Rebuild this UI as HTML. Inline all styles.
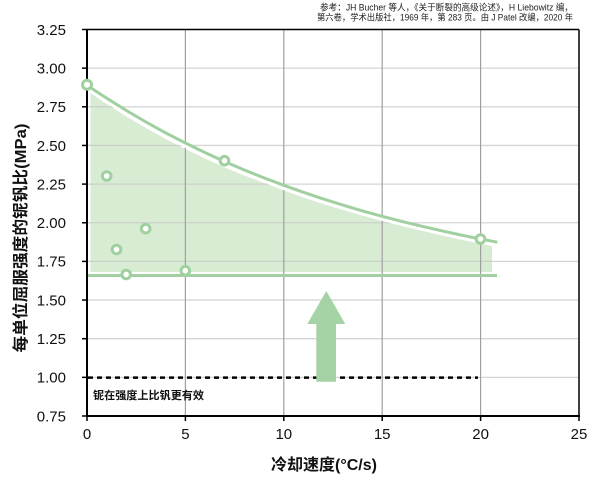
<!DOCTYPE html>
<html><head><meta charset="utf-8"><style>
html,body{margin:0;padding:0;background:#fff;}
svg{display:block;}
text{font-family:"Liberation Sans","Noto Sans CJK SC",sans-serif;}
</style></head><body>
<svg width="600" height="480" viewBox="0 0 600 480" xmlns="http://www.w3.org/2000/svg">
<rect width="600" height="480" fill="#fff"/>
<!-- citation -->
<text x="573" y="10.5" font-size="9" text-anchor="end" fill="#222" textLength="253" lengthAdjust="spacingAndGlyphs">参考：JH Bucher 等人，《关于断裂的高级论述》，H Liebowitz 编，</text>
<text x="573" y="20.5" font-size="9" text-anchor="end" fill="#222" textLength="256" lengthAdjust="spacingAndGlyphs">第六卷，学术出版社，1969 年，第 283 页。由 J Patel 改编，2020 年</text>

<!-- fill -->
<polygon fill="#d8ebd3" points="90.5,93 106.7,104 126.4,116.5 146,128 165.7,139 185.4,149 205.1,158.5 224.8,167.5 244.4,175.5 264.1,183 283.8,190.5 303.5,197.5 323.2,204 342.8,210 362.5,215.5 382.2,221 401.9,226 421.6,230.5 441.2,235 460.9,239.5 480.6,243.5 492,246 492,272 90.5,272"/>

<!-- horizontal grid -->
<g stroke="#c8c8c8" stroke-width="1.3" opacity="0.75">
<line x1="87" x2="579" y1="68.15" y2="68.15"/>
<line x1="87" x2="579" y1="106.8" y2="106.8"/>
<line x1="87" x2="579" y1="145.45" y2="145.45"/>
<line x1="87" x2="579" y1="184.1" y2="184.1"/>
<line x1="87" x2="579" y1="222.75" y2="222.75"/>
<line x1="87" x2="579" y1="261.4" y2="261.4"/>
<line x1="87" x2="579" y1="300.05" y2="300.05"/>
<line x1="87" x2="579" y1="338.7" y2="338.7"/>
<line x1="87" x2="579" y1="377.35" y2="377.35"/>
</g>
<!-- vertical grid -->
<g stroke="#a0a0a0" stroke-width="1.2">
<line x1="185.4" x2="185.4" y1="29.5" y2="416"/>
<line x1="283.8" x2="283.8" y1="29.5" y2="416"/>
<line x1="382.2" x2="382.2" y1="29.5" y2="416"/>
<line x1="480.6" x2="480.6" y1="29.5" y2="416"/>
</g>

<!-- dashed line at 1.00 -->
<line x1="88" x2="478" y1="377.6" y2="377.6" stroke="#000" stroke-width="2.5" stroke-dasharray="5,4"/>

<!-- arrow -->
<polygon fill="#a5d3a5" points="326.3,291 345.3,324 336,324 336,381.7 316.3,381.7 316.3,324 307.3,324"/>

<!-- green horizontal -->
<line x1="87" x2="497" y1="275.5" y2="275.5" stroke="#a0d0a0" stroke-width="3"/>

<!-- curve -->
<polyline fill="none" stroke="#fff" stroke-width="3" points="90,90 106.7,101.2 126.4,113.5 146,125 165.7,135.9 185.4,146 205.1,155.6 224.8,164.6 244.4,173 264.1,180.9 283.8,188.3 303.5,195.3 323.2,201.9 342.8,208.1 362.5,213.9 382.2,219.3 401.9,224.4 421.6,229.2 441.2,233.7 460.9,238 480.6,242 492,244.3"/>
<polyline fill="none" stroke="#a0d0a0" stroke-width="3" stroke-linejoin="round" points="87,85.2 106.7,98.2 126.4,110.5 146,122 165.7,132.9 185.4,143 205.1,152.6 224.8,161.6 244.4,170 264.1,177.9 283.8,185.3 303.5,192.3 323.2,198.9 342.8,205.1 362.5,210.9 382.2,216.3 401.9,221.4 421.6,226.2 441.2,230.7 460.9,235 480.6,239 497.3,242.2"/>

<!-- frame -->
<line x1="87" x2="579" y1="29.5" y2="29.5" stroke="#000" stroke-width="1.5"/>
<line x1="579" x2="579" y1="29.5" y2="416" stroke="#000" stroke-width="1.5"/>
<line x1="87" x2="87" y1="29" y2="417" stroke="#000" stroke-width="2"/>
<line x1="86" x2="580" y1="416" y2="416" stroke="#000" stroke-width="2"/>

<!-- ticks -->
<g stroke="#000" stroke-width="1.5">
<line x1="82" x2="87" y1="29.5" y2="29.5"/>
<line x1="82" x2="87" y1="68.15" y2="68.15"/>
<line x1="82" x2="87" y1="106.8" y2="106.8"/>
<line x1="82" x2="87" y1="145.45" y2="145.45"/>
<line x1="82" x2="87" y1="184.1" y2="184.1"/>
<line x1="82" x2="87" y1="222.75" y2="222.75"/>
<line x1="82" x2="87" y1="261.4" y2="261.4"/>
<line x1="82" x2="87" y1="300.05" y2="300.05"/>
<line x1="82" x2="87" y1="338.7" y2="338.7"/>
<line x1="82" x2="87" y1="377.35" y2="377.35"/>
<line x1="82" x2="87" y1="416" y2="416"/>
<line x1="87" x2="87" y1="416" y2="421"/>
<line x1="185.4" x2="185.4" y1="416" y2="421"/>
<line x1="283.8" x2="283.8" y1="416" y2="421"/>
<line x1="382.2" x2="382.2" y1="416" y2="421"/>
<line x1="480.6" x2="480.6" y1="416" y2="421"/>
<line x1="579" x2="579" y1="416" y2="421"/>
</g>

<!-- data points -->
<g fill="#fff" stroke="#a0d0a0" stroke-width="3">
<circle cx="87" cy="84.8" r="4.5"/>
<circle cx="106.7" cy="176" r="4.3"/>
<circle cx="116.5" cy="249.5" r="4.3"/>
<circle cx="126.2" cy="274.5" r="4.3"/>
<circle cx="145.7" cy="228.7" r="4.3"/>
<circle cx="185.3" cy="270.7" r="4.3"/>
<circle cx="224.5" cy="160.7" r="4.3"/>
<circle cx="480.5" cy="239" r="4.3"/>
</g>

<!-- y tick labels -->
<g font-size="15" text-anchor="end" fill="#111">
<text x="66" y="34.8">3.25</text>
<text x="66" y="73.5">3.00</text>
<text x="66" y="112.1">2.75</text>
<text x="66" y="150.8">2.50</text>
<text x="66" y="189.4">2.25</text>
<text x="66" y="228.1">2.00</text>
<text x="66" y="266.7">1.75</text>
<text x="66" y="305.4">1.50</text>
<text x="66" y="344">1.25</text>
<text x="66" y="382.7">1.00</text>
<text x="66" y="421.3">0.75</text>
</g>
<!-- x tick labels -->
<g font-size="15" text-anchor="middle" fill="#111">
<text x="87" y="439">0</text>
<text x="185.4" y="439">5</text>
<text x="283.8" y="439">10</text>
<text x="382.2" y="439">15</text>
<text x="480.6" y="439">20</text>
<text x="579" y="439">25</text>
</g>

<!-- annotation -->
<text x="93" y="399" font-size="11" font-weight="bold" fill="#111" textLength="111" lengthAdjust="spacingAndGlyphs">铌在强度上比钒更有效</text>

<!-- axis titles -->
<text x="324" y="470" font-size="16" font-weight="bold" text-anchor="middle" fill="#111">冷却速度(°C/s)</text>
<text transform="translate(26,238) rotate(-90)" font-size="16" font-weight="bold" text-anchor="middle" fill="#111" textLength="229" lengthAdjust="spacingAndGlyphs">每单位屈服强度的铌钒比(MPa)</text>
</svg>
</body></html>
